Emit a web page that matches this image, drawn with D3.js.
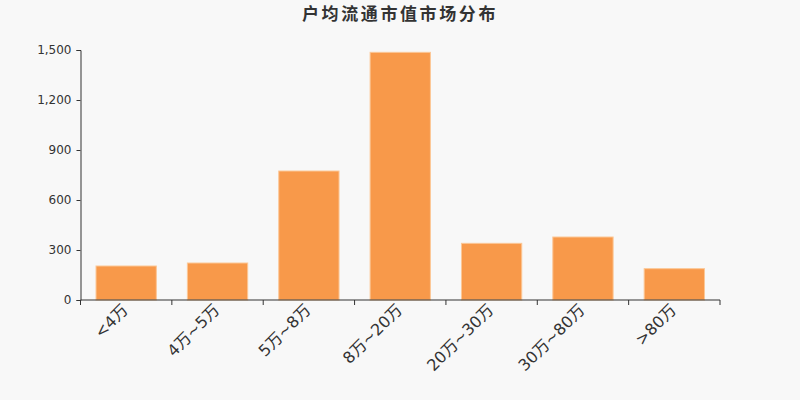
<!DOCTYPE html>
<html>
<head>
<meta charset="utf-8">
<script src="https://cdn.jsdelivr.net/npm/d3@7"></script>
<style>
	body { margin: 0; background: #f8f8f8; }
	svg { display: block; }
</style>
</head>
<body>
<svg id="chart" width="800" height="400"></svg>
<script>
var titleText = "户均流通市值市场分布";
var categories = ["<4万", "4万~5万", "5万~8万", "8万~20万", "20万~30万", "30万~80万", ">80万"];
var values = [204, 222, 774, 1486, 340, 378, 188];
var yTicks = [0, 300, 600, 900, 1200, 1500];

var margin = { top: 50, right: 80, bottom: 100, left: 80.5 };
var width = 800, height = 400;
var fontStack = "'DejaVu Sans', 'Noto Sans CJK SC', sans-serif";

var svg = d3.select("#chart");

svg.append("rect")
	.attr("width", width)
	.attr("height", height)
	.attr("fill", "#f8f8f8");

svg.append("text")
	.attr("x", 400)
	.attr("y", 20)
	.attr("text-anchor", "middle")
	.attr("font-size", 17)
	.attr("font-weight", "bold")
	.attr("letter-spacing", 2.6)
	.attr("fill", "#333")
	.attr("font-family", "'Noto Sans CJK SC', sans-serif")
	.text(titleText);

var x = d3.scaleBand()
	.domain(categories)
	.range([margin.left, width - margin.right])
	.paddingInner(0.34)
	.paddingOuter(0.17);

var y = d3.scaleLinear()
	.domain([0, 1500])
	.range([height - margin.bottom, margin.top]);

// bars
svg.append("g")
	.selectAll("rect")
	.data(values)
	.enter().append("rect")
	.attr("x", function(d, i) { return x(categories[i]); })
	.attr("y", function(d) { return y(d); })
	.attr("width", x.bandwidth())
	.attr("height", function(d) { return y(0) - y(d); })
	.attr("fill", "#f8994a")
	.attr("stroke", "#fcc796")
	.attr("stroke-width", 1);

// y axis
var yAxis = svg.append("g")
	.attr("transform", "translate(" + margin.left + ",0)")
	.call(d3.axisLeft(y).tickValues(yTicks).tickSize(4).tickPadding(5).tickFormat(d3.format(",")));
yAxis.attr("font-family", fontStack);
yAxis.selectAll("text")
	.attr("font-size", 12)
	.attr("fill", "#333");
yAxis.selectAll("line, path").attr("stroke", "#333");

// x axis with ticks at band boundaries
var xAxisG = svg.append("g")
	.attr("transform", "translate(0," + y(0) + ")")
	.attr("font-family", fontStack);
xAxisG.append("line")
	.attr("x1", margin.left)
	.attr("x2", width - margin.right)
	.attr("stroke", "#333");

var step = x.step();
var boundaries = d3.range(categories.length + 1).map(function(i) {
	return margin.left + i * step;
});
xAxisG.selectAll(".tick-line")
	.data(boundaries)
	.enter().append("line")
	.attr("class", "tick-line")
	.attr("x1", function(d) { return d; })
	.attr("x2", function(d) { return d; })
	.attr("y1", 0)
	.attr("y2", 5)
	.attr("stroke", "#333");

xAxisG.selectAll(".tick-label")
	.data(categories)
	.enter().append("text")
	.attr("class", "tick-label")
	.attr("transform", function(d) {
		return "translate(" + (x(d) + x.bandwidth() / 2 - 1) + ",7) rotate(-45)";
	})
	.attr("text-anchor", "end")
	.attr("dy", "0.35em")
	.attr("font-size", 16)
	.attr("fill", "#333")
	.text(function(d) { return d; });
</script>
</body>
</html>
